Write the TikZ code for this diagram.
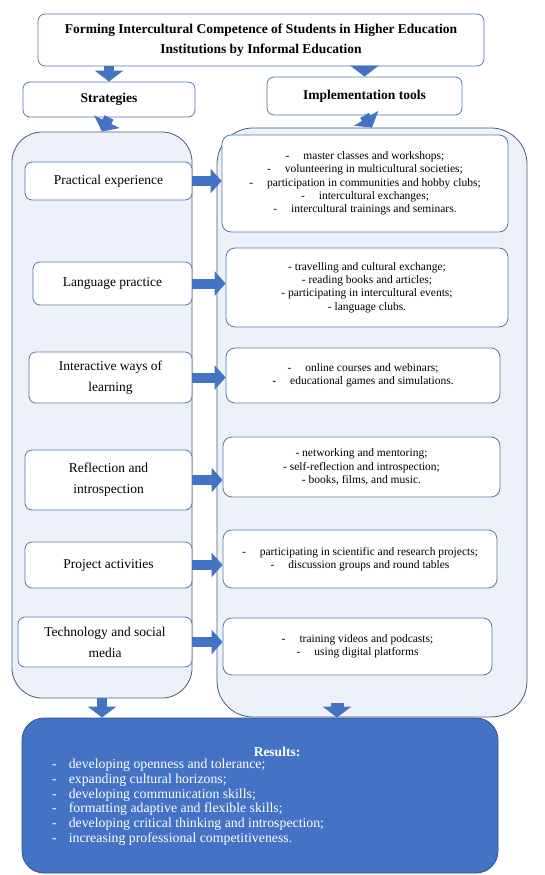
\documentclass[tikz,border=0pt]{standalone}
\usepackage{fontspec}
\setmainfont{Liberation Serif}
\usetikzlibrary{arrows.meta}

\definecolor{boxline}{RGB}{84,122,172}
\definecolor{panelfill}{RGB}{237,242,250}
\definecolor{panelline}{RGB}{72,92,118}
\definecolor{arrowblue}{RGB}{68,114,196}
\definecolor{resultline}{RGB}{47,82,143}

\begin{document}
\begin{tikzpicture}
        [
            x=1pt, y=-1pt,
            HeadNode/.style=
            {rectangle, rounded corners=7pt, draw=boxline, fill=white,
            thick, align=center, font=\bfseries\fontsize{13.5}{20}\selectfont},
            PanelNode/.style=
            {rectangle, rounded corners=30pt, draw=panelline, fill=panelfill,
            thick},
            StratNode/.style=
            {rectangle, rounded corners=7pt, draw=boxline, fill=white,
            thick, align=center, font=\fontsize{13.5}{21}\selectfont},
            ToolNode/.style=
            {rectangle, rounded corners=9pt, draw=boxline, fill=white,
            thick, align=center, font=\fontsize{11.5}{13.3}\selectfont},
            ResultNode/.style=
            {rectangle, rounded corners=22pt, draw=resultline, fill=arrowblue,
            thick},
            DownArrow/.style=
            {draw=arrowblue, line width=10pt, -{Triangle[width=28pt,length=11pt]}},
            SideArrow/.style=
            {draw=arrowblue, line width=10pt, -{Triangle[width=24pt,length=11pt]}}
        ]
            \useasboundingbox (0,0) rectangle (544,875);

            % top row
            \node[HeadNode, minimum width=446pt, minimum height=52pt] (title) at (261,40)
                {Forming Intercultural Competence of Students in Higher Education\\
                Institutions by Informal Education};
            \node[HeadNode, minimum width=172pt, minimum height=35pt] (strat) at (109,99.5)
                {Strategies};
            \node[HeadNode, minimum width=195pt, minimum height=38pt] (tools) at (364.5,96)
                {Implementation tools};

            % the two panels
            \node[PanelNode, minimum width=180pt, minimum height=566pt] (lpanel) at (102,415) {};
            \node[PanelNode, rounded corners=36pt, minimum width=310pt, minimum height=589pt]
                (rpanel) at (372,422.5) {};

            % strategies
            \node[StratNode, minimum width=167pt, minimum height=38pt] (s1) at (108.5,181)
                {Practical experience};
            \node[StratNode, minimum width=159pt, minimum height=43pt] (s2) at (112.5,283.5)
                {Language practice};
            \node[StratNode, minimum width=163pt, minimum height=51pt] (s3) at (110.5,377.5)
                {Interactive ways of\\learning};
            \node[StratNode, minimum width=167pt, minimum height=60pt] (s4) at (108.5,480)
                {Reflection and\\introspection};
            \node[StratNode, minimum width=167pt, minimum height=46pt] (s5) at (108.5,565)
                {Project activities};
            \node[StratNode, minimum width=174pt, minimum height=50pt] (s6) at (105,642)
                {Technology and social\\media};

            % tools
            \node[ToolNode, minimum width=286pt, minimum height=97pt] (t1) at (365,183.5)
                {-\hspace{14pt}master classes and workshops;\\
                -\hspace{14pt}volunteering in multicultural societies;\\
                -\hspace{14pt}participation in communities and hobby clubs;\\
                -\hspace{14pt}intercultural exchanges;\\
                -\hspace{14pt}intercultural trainings and seminars.};
            \node[ToolNode, minimum width=282pt, minimum height=79pt] (t2) at (367,287.5)
                {- travelling and cultural exchange;\\
                - reading books and articles;\\
                - participating in intercultural events;\\
                - language clubs.};
            \node[ToolNode, minimum width=274pt, minimum height=55pt] (t3) at (363,375.5)
                {-\hspace{14pt}online courses and webinars;\\
                -\hspace{14pt}educational games and simulations.};
            \node[ToolNode, minimum width=277pt, minimum height=60pt] (t4) at (361.5,467)
                {- networking and mentoring;\\
                - self-reflection and introspection;\\
                - books, films, and music.};
            \node[ToolNode, minimum width=274pt, minimum height=58pt] (t5) at (360,559)
                {-\hspace{14pt}participating in scientific and research projects;\\
                -\hspace{14pt}discussion groups and round tables};
            \node[ToolNode, minimum width=269pt, minimum height=57pt] (t6) at (357.5,646.5)
                {-\hspace{14pt}training videos and podcasts;\\
                -\hspace{14pt}using digital platforms};

            % results
            \node[ResultNode, minimum width=476pt, minimum height=155pt] (results) at (260,795.5) {};
            \node[text=white, font=\bfseries\fontsize{13.5}{15}\selectfont] (restitle) at (277,752)
                {Results:};
            \node[text=white, anchor=north west, align=left, inner sep=0pt,
                font=\fontsize{13.8}{14.7}\selectfont] (reslist) at (52,759)
                {-\hspace{12pt}developing openness and tolerance;\\
                -\hspace{12pt}expanding cultural horizons;\\
                -\hspace{12pt}developing communication skills;\\
                -\hspace{12pt}formatting adaptive and flexible skills;\\
                -\hspace{12pt}developing critical thinking and introspection;\\
                -\hspace{12pt}increasing professional competitiveness.};

            % arrows
            \draw[DownArrow] (strat.north |- title.south) -- (strat.north);
            \draw[DownArrow] (tools.north |- title.south) -- (tools.north);
            \draw[DownArrow] (strat.south) -- (lpanel.north);
            \draw[DownArrow] (tools.south) -- (rpanel.north);
            \foreach \i in {1, ..., 6}
                \draw[SideArrow] (s\i.east) -- (s\i.east -| t\i.west);
            \draw[DownArrow] (lpanel.south) -- (lpanel.south |- results.north);
            \draw[DownArrow, line width=13pt] ([xshift=-35pt,yshift=14pt]rpanel.south)
                -- ([xshift=-35pt]rpanel.south |- results.north);
    \end{tikzpicture}
\end{document}
